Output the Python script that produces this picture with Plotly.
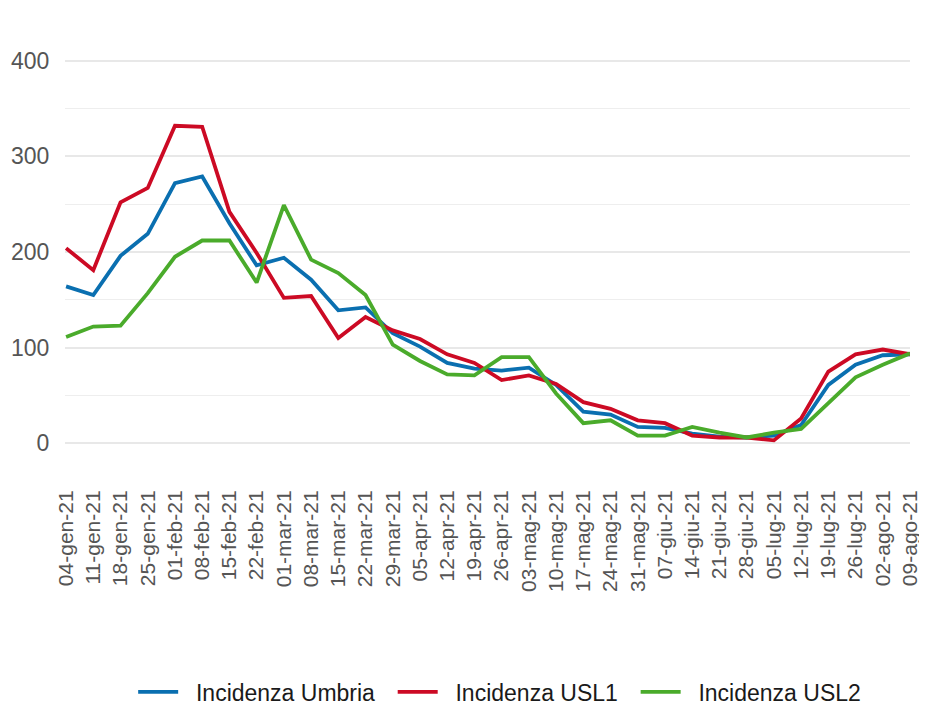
import plotly.graph_objects as go

dates = ["04-gen-21", "11-gen-21", "18-gen-21", "25-gen-21",
         "01-feb-21", "08-feb-21", "15-feb-21", "22-feb-21",
         "01-mar-21", "08-mar-21", "15-mar-21", "22-mar-21", "29-mar-21",
         "05-apr-21", "12-apr-21", "19-apr-21", "26-apr-21",
         "03-mag-21", "10-mag-21", "17-mag-21", "24-mag-21", "31-mag-21",
         "07-giu-21", "14-giu-21", "21-giu-21", "28-giu-21",
         "05-lug-21", "12-lug-21", "19-lug-21", "26-lug-21",
         "02-ago-21", "09-ago-21"]

umbria = [164, 155, 196, 219, 272, 279, 230, 186, 194, 171, 139, 142, 115,
          101, 84, 78, 76, 79, 61, 33, 30, 17, 16, 10, 7, 6, 8, 19, 61, 82,
          92, 93]
usl1 = [204, 181, 252, 267, 332, 331, 242, 199, 152, 154, 110, 132, 118,
        109, 93, 84, 66, 71, 62, 43, 36, 24, 21, 8, 6, 6, 3, 26, 75, 93,
        98, 93]
usl2 = [111, 122, 123, 157, 195, 212, 212, 168, 249, 192, 178, 155, 103,
        86, 72, 71, 90, 90, 52, 21, 24, 8, 8, 17, 11, 6, 11, 15, 42, 69,
        82, 94]

series_names = ["Incidenza Umbria", "Incidenza USL1", "Incidenza USL2"]
colors = ["#0a6fb0", "#cc0a24", "#4aab2b"]

FONT = "Liberation Sans, Arial, sans-serif"
NB = "\u00a0"

# legend labels padded with non-breaking spaces for spacing
legend_labels = [NB * 2 + series_names[0] + NB * 2,
                 NB * 2 + series_names[1] + NB * 2,
                 NB * 2 + series_names[2]]

fig = go.Figure()
for name, vals, col in zip(legend_labels, [umbria, usl1, usl2], colors):
    fig.add_trace(go.Scatter(x=dates, y=vals, mode="lines", name=name,
                             line=dict(color=col, width=3.8)))

# page body has an 8px margin, so the figure is offset by 8px
fig.update_layout(
    width=919, height=699,
    margin=dict(l=57, r=17, t=4, b=237),
    paper_bgcolor="white", plot_bgcolor="white",
    font=dict(family=FONT, color="#555555"),
    showlegend=True,
    legend=dict(orientation="h", xref="container", x=0.535, xanchor="center",
                yref="container", y=0.0215, yanchor="middle",
                font=dict(size=23, color="#1a1a1a", family=FONT),
                itemwidth=40, traceorder="normal"),
)
fig.update_xaxes(type="category", range=[-0.04, 31.0], showgrid=False, zeroline=False,
                 showline=False, tickangle=-90, ticks="outside", ticklen=11,
                 tickcolor="rgba(0,0,0,0)", automargin=False,
                 tickfont=dict(size=21, color="#555555", family=FONT))
fig.update_yaxes(range=[-28, 451], tickvals=[0, 100, 200, 300, 400], showgrid=True,
                 gridcolor="#e8e8e8", gridwidth=1.6, zeroline=False, showline=False,
                 ticks="outside", ticklen=10, tickcolor="rgba(0,0,0,0)", automargin=False,
                 tickfont=dict(size=23, color="#555555", family=FONT),
                 minor=dict(tickvals=[50, 150, 250, 350, 450], showgrid=True,
                            gridcolor="#eeeeee", gridwidth=1.4))

fig.write_html("out.html")
